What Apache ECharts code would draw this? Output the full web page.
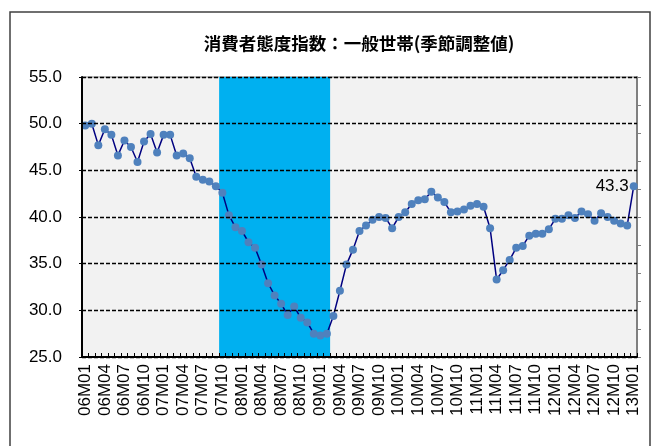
<!DOCTYPE html>
<html>
<head>
<meta charset="utf-8">
<script src="https://cdn.jsdelivr.net/npm/echarts@6/dist/echarts.min.js"></script>
<style>
  html, body { margin: 0; padding: 0; background: #fff; }
  #chart { width: 655px; height: 446px; }
</style>
</head>
<body>
<div id="chart"></div>
<script>
// months 06M01 .. 13M01
const months = []
for (let y = 6; y <= 13; y++) {
    for (let m = 1; m <= 12; m++) {
        if (y === 13 && m > 1) break
        months.push(String(y).padStart(2, '0') + 'M' + String(m).padStart(2, '0'))
    }
}

const index = [
    49.8, 50.0, 47.7, 49.4, 48.8, 46.6, 48.2, 47.5, 45.9, 48.1, 48.9, 46.9,
    48.8, 48.8, 46.6, 46.8, 46.3, 44.3, 44.0, 43.8, 43.3, 42.6, 40.2, 38.9,
    38.5, 37.3, 36.7, 34.9, 32.9, 31.6, 30.7, 29.5, 30.4, 29.2, 28.7, 27.5,
    27.3, 27.5, 29.4, 32.1, 34.9, 36.5, 38.5, 39.1, 39.7, 40.0, 39.9, 38.8,
    40.0, 40.5, 41.4, 41.8, 41.9, 42.7, 42.1, 41.6, 40.5, 40.6, 40.8, 41.2,
    41.4, 41.1, 38.8, 33.3, 34.3, 35.4, 36.7, 36.9, 38.0, 38.2, 38.2, 38.7,
    39.8, 39.8, 40.2, 39.9, 40.6, 40.3, 39.6, 40.4, 40.0, 39.6, 39.3, 39.1,
    43.3
]

// shaded period (recession), first and last month inside it
const shadeStart = '07M10'
const shadeEnd = '09M02'

const s0 = months.indexOf(shadeStart)
const s1 = months.indexOf(shadeEnd)

const font = 'Liberation Sans, Arial, sans-serif'

const option = {
    animation: false,
    title: {
        text: '消費者態度指数：一般世帯(季節調整値)',
        left: 354,
        top: 30,
        textAlign: 'center',
        textStyle: {
            fontFamily: 'Noto Sans CJK JP',
            fontSize: 17.5,
            fontWeight: 'bold',
            color: '#000'
        }
    },
    graphic: [{
        type: 'rect',
        shape: { x: 10, y: 12, width: 640, height: 450 },
        style: { fill: 'none', stroke: '#404040', lineWidth: 1.5 },
        silent: true
    }],
    grid: {
        left: 82,
        right: 18,
        top: 77,
        bottom: 89,
        show: true,
        backgroundColor: '#F2F2F2',
        borderColor: '#808080',
        borderWidth: 1
    },
    xAxis: [{
        type: 'category',
        data: months,
        boundaryGap: true,
        axisLine: { lineStyle: { color: '#000', width: 2 } },
        axisTick: { show: true, inside: true, interval: 0, length: 4, lineStyle: { color: '#000' } },
        axisLabel: {
            interval: 2,
            rotate: 90,
            margin: 7,
            color: '#000',
            fontFamily: font,
            fontSize: 17
        },
        splitLine: { show: false },
        z: 5
    }, {
        // hidden helper axis: one unit per month band, used for the shaded period
        type: 'value',
        min: 0,
        max: months.length,
        show: false
    }],
    yAxis: [{
        type: 'value',
        min: 25,
        max: 55,
        interval: 5,
        axisLine: { show: true, lineStyle: { color: '#000', width: 2 } },
        axisTick: { show: true, length: 3, lineStyle: { color: '#000' } },
        axisLabel: {
            formatter: v => v.toFixed(1),
            color: '#000',
            fontFamily: font,
            fontSize: 17,
            margin: 20
        },
        splitLine: { lineStyle: { color: '#000', type: [4, 2], width: 1.3 } },
        z: 5
    }, {
        type: 'value',
        position: 'right',
        min: 0,
        max: 10,
        interval: 1,
        axisLine: { show: true, lineStyle: { color: '#808080', width: 2 } },
        axisTick: { show: true, length: 4, lineStyle: { color: '#808080' } },
        axisLabel: { show: false },
        splitLine: { show: false }
    }],
    series: [{
        name: 'shade',
        type: 'line',
        xAxisIndex: 1,
        data: [],
        silent: true,
        markArea: {
            silent: true,
            itemStyle: { color: '#00B0F0', opacity: 1 },
            data: [[{ xAxis: s0 }, { xAxis: s1 + 1 }]]
        },
        z: 1
    }, {
        name: '消費者態度指数',
        type: 'line',
        data: index,
        symbol: 'circle',
        symbolSize: 8,
        showAllSymbol: true,
        lineStyle: { color: '#000080', width: 1.5 },
        itemStyle: { color: '#4F81BD' },
        label: {
            show: true,
            position: 'left',
            distance: 1,
            color: '#000',
            fontFamily: font,
            fontSize: 17,
            formatter: p => p.dataIndex === index.length - 1 ? p.value.toFixed(1) : ''
        },
        z: 3
    }]
}

const chart = echarts.init(document.getElementById('chart'))
chart.setOption(option)
window.addEventListener('resize', () => {
    chart.resize()
})
</script>
</body>
</html>
